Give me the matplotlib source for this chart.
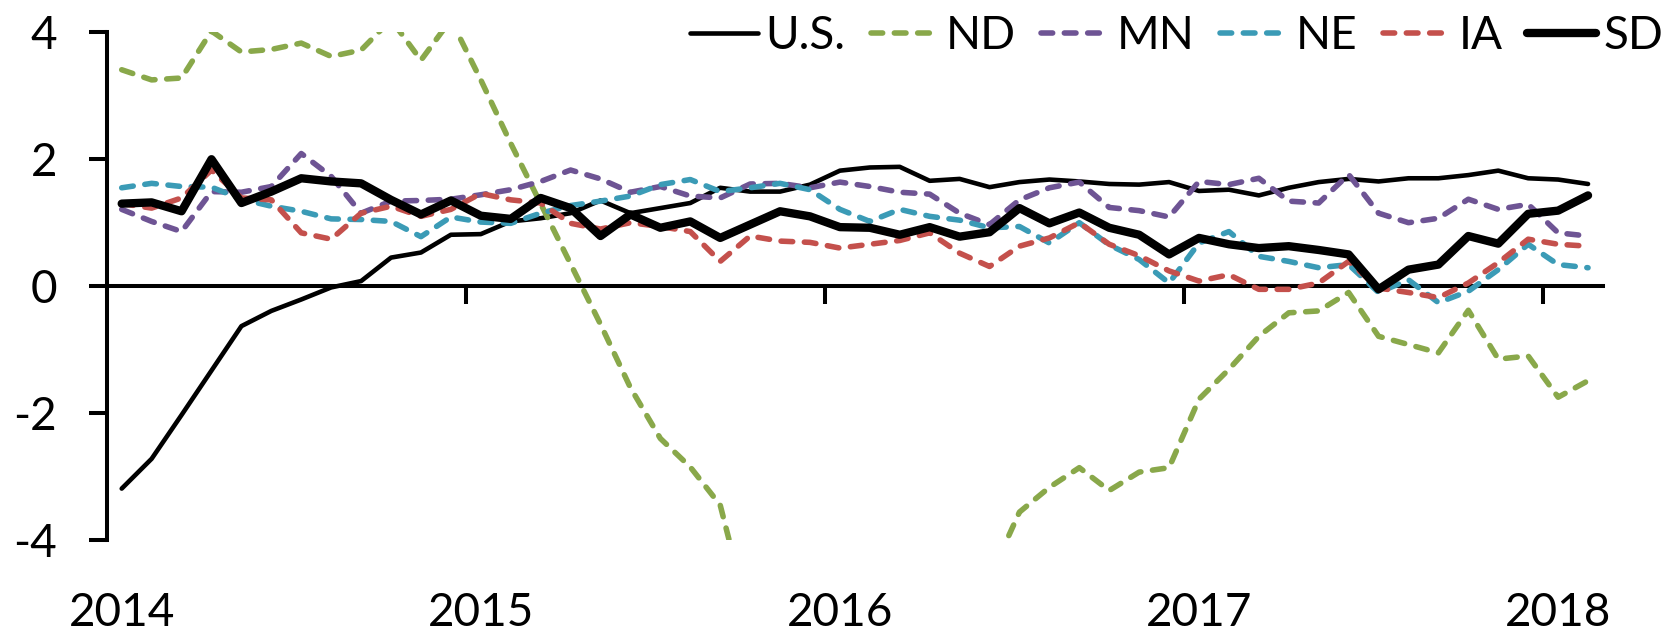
import numpy as np
import pandas as pd
import matplotlib
matplotlib.use("Agg")
import matplotlib.pyplot as plt

plt.rcParams['font.family'] = ['Lato', 'DejaVu Sans']

# Monthly observations, Jan 2014 - Feb 2018
months = pd.period_range("2014-01", "2018-02", freq="M")
year_labels = ["2014", "2015", "2016", "2017", "2018"]
series_names = ["U.S.", "ND", "MN", "NE", "IA", "SD"]

us = [-3.19, -2.72, -2.03, -1.33, -0.63, -0.39, -0.21, -0.02, 0.08, 0.45,
      0.53, 0.81, 0.82, 1.02, 1.07, 1.15, 1.35, 1.15, 1.23, 1.31,
      1.55, 1.49, 1.49, 1.60, 1.82, 1.87, 1.88, 1.66, 1.69, 1.56,
      1.64, 1.68, 1.65, 1.61, 1.60, 1.64, 1.50, 1.52, 1.43, 1.55,
      1.64, 1.69, 1.65, 1.70, 1.70, 1.75, 1.82, 1.70, 1.68, 1.61]

nd = [3.41, 3.25, 3.28, 4.02, 3.69, 3.73, 3.83, 3.62, 3.72, 4.20,
      3.56, 4.20, 3.25, 2.25, 1.30, 0.35, -0.60, -1.60, -2.40, -2.85,
      -3.45, -5.30, np.nan, np.nan, np.nan, np.nan, np.nan, np.nan, np.nan, -4.60,
      -3.56, -3.17, -2.86, -3.22, -2.93, -2.86, -1.78, -1.31, -0.79, -0.42,
      -0.39, -0.10, -0.79, -0.92, -1.05, -0.38, -1.15, -1.10, -1.75, -1.49]

mn = [1.21, 1.02, 0.86, 1.49, 1.48, 1.57, 2.09, 1.73, 1.15, 1.34,
      1.35, 1.37, 1.44, 1.52, 1.65, 1.83, 1.69, 1.48, 1.57, 1.42,
      1.39, 1.61, 1.62, 1.55, 1.64, 1.57, 1.48, 1.45, 1.15, 0.97,
      1.36, 1.55, 1.64, 1.24, 1.19, 1.09, 1.65, 1.60, 1.70, 1.34,
      1.31, 1.76, 1.15, 1.00, 1.07, 1.37, 1.21, 1.29, 0.84, 0.79]

ne = [1.55, 1.62, 1.57, 1.56, 1.37, 1.26, 1.18, 1.06, 1.05, 1.02,
      0.78, 1.09, 1.01, 0.99, 1.15, 1.27, 1.34, 1.42, 1.60, 1.68,
      1.49, 1.55, 1.62, 1.52, 1.21, 1.02, 1.21, 1.10, 1.04, 0.92,
      0.94, 0.68, 1.00, 0.65, 0.42, 0.05, 0.68, 0.86, 0.47, 0.39,
      0.29, 0.34, -0.10, 0.10, -0.26, -0.08, 0.26, 0.66, 0.34, 0.29]

ia = [1.30, 1.23, 1.39, 1.83, 1.39, 1.36, 0.84, 0.74, 1.15, 1.26,
      1.10, 1.21, 1.46, 1.36, 1.31, 0.99, 0.90, 1.00, 0.94, 0.86,
      0.39, 0.79, 0.71, 0.69, 0.60, 0.66, 0.72, 0.84, 0.52, 0.31,
      0.63, 0.76, 1.00, 0.66, 0.48, 0.24, 0.08, 0.18, -0.05, -0.05,
      0.05, 0.39, -0.03, -0.10, -0.18, 0.05, 0.37, 0.74, 0.66, 0.63]

sd = [1.30, 1.32, 1.18, 2.00, 1.31, 1.49, 1.70, 1.65, 1.62, 1.36,
      1.13, 1.35, 1.11, 1.06, 1.39, 1.23, 0.79, 1.13, 0.92, 1.02,
      0.76, 0.97, 1.18, 1.10, 0.93, 0.92, 0.81, 0.93, 0.78, 0.85,
      1.23, 0.99, 1.16, 0.92, 0.81, 0.50, 0.76, 0.66, 0.60, 0.63,
      0.57, 0.50, -0.05, 0.26, 0.34, 0.79, 0.67, 1.14, 1.19, 1.43]

values = [us, nd, mn, ne, ia, sd]
colors = ["#000000", "#89A84A", "#6E5494", "#3B9BB6", "#C4504C", "#000000"]
styles = ["solid", "dash", "dash", "dash", "dash", "solid"]
widths = [3.3, 4.0, 4.0, 4.0, 4.0, 6.0]

fig = plt.figure(figsize=(16.81, 6.31), dpi=100)
ax = fig.add_axes([0.0635, 0.1442, 0.8901, 0.8046])

x = np.arange(len(months))
for name, vals, c, st, w in zip(series_names, values, colors, styles, widths):
    if st == "dash":
        ax.plot(x, vals, color=c, lw=w, dashes=(2.1, 2.1), dash_capstyle="round",
                solid_joinstyle="round", label=name, zorder=3)
    else:
        ax.plot(x, vals, color=c, lw=w, solid_capstyle="round",
                solid_joinstyle="round", label=name, zorder=3)

ax.set_xlim(-0.5, len(months) - 0.5)
ax.set_ylim(-4, 4)

for s in ["top", "right"]:
    ax.spines[s].set_visible(False)
ax.spines["left"].set_linewidth(2.9)
ax.spines["bottom"].set_linewidth(2.9)
ax.spines["bottom"].set_position(("data", 0))

yt = [-4, -2, 0, 2, 4]
ax.set_yticks(yt)
ax.set_yticklabels([str(v) for v in yt])
ax.tick_params(axis="y", direction="out", length=12.7, width=2.9, pad=23, labelsize=33)

year_starts = [i for i, m in enumerate(months) if m.month == 1]
ax.set_xticks([i - 0.5 for i in year_starts[1:]])
ax.set_xticks(year_starts, minor=True)
ax.set_xticklabels(year_labels, minor=True)
ax.tick_params(axis="x", which="major", direction="out", length=12.7, width=2.9,
               labelbottom=False)
ax.tick_params(axis="x", which="minor", length=0, pad=220, labelsize=33)

ax.legend(loc="center right", bbox_to_anchor=(1663 / 1681, 1 - 36 / 631),
          bbox_transform=fig.transFigure, ncol=6, frameon=False, fontsize=33,
          handlelength=1.5, handletextpad=0.15, columnspacing=0.55,
          borderpad=0, borderaxespad=0)

fig.savefig("out.png", dpi=100)
